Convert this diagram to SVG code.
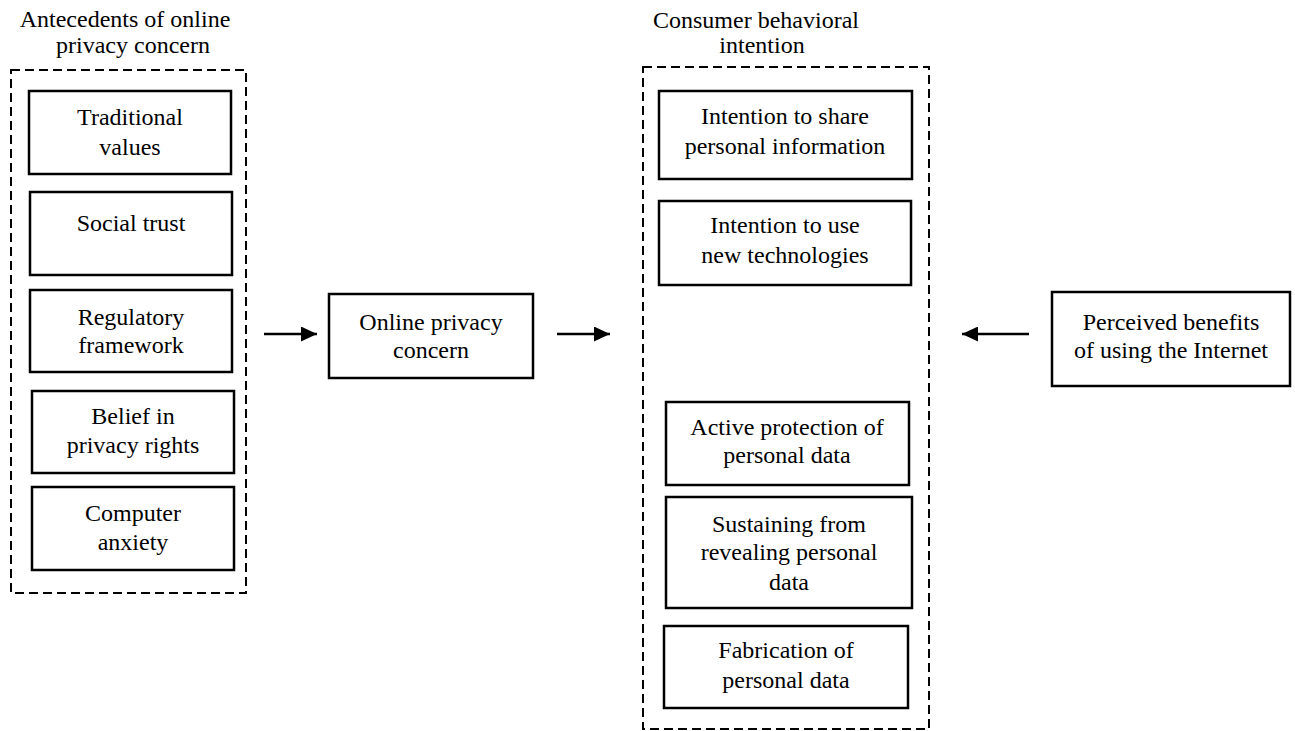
<svg xmlns="http://www.w3.org/2000/svg" width="1295" height="731" viewBox="0 0 1295 731">
<defs>
<style>
text{font-family:"Liberation Serif","Times New Roman",serif;font-size:24px;fill:#000;text-anchor:middle}
.box{fill:#fff;stroke:#000;stroke-width:2.5}
.grp{fill:none;stroke:#000;stroke-width:2;stroke-dasharray:9 5}
.conn{stroke:#000;stroke-width:2.6;fill:none}
</style>
<marker id="ah" viewBox="0 0 16 15" refX="16" refY="7.5" markerWidth="16" markerHeight="15" markerUnits="userSpaceOnUse" orient="auto">
<path d="M0,0 L16,7.5 L0,15 Z" fill="#000"/>
</marker>
</defs>
<rect width="1295" height="731" fill="#fff"/>

<g id="group-antecedents">
<rect class="grp" x="11" y="70" width="235" height="523"/>
<text x="125" y="27">Antecedents of online</text>
<text x="133" y="53">privacy concern</text>
</g>
<g id="group-intention">
<rect class="grp" x="643" y="67" width="286" height="662"/>
<text x="756" y="28">Consumer behavioral</text>
<text x="762" y="53">intention</text>
</g>

<g id="n-traditional"><rect class="box" x="29" y="91" width="202" height="83"/><text x="130" y="125">Traditional</text><text x="130" y="155">values</text></g>
<g id="n-social"><rect class="box" x="30" y="192" width="202" height="83"/><text x="131" y="231">Social trust</text></g>
<g id="n-regulatory"><rect class="box" x="30" y="290" width="202" height="82"/><text x="131" y="325">Regulatory</text><text x="131" y="353">framework</text></g>
<g id="n-belief"><rect class="box" x="32" y="391" width="202" height="82"/><text x="133" y="424">Belief in</text><text x="133" y="453">privacy rights</text></g>
<g id="n-anxiety"><rect class="box" x="32" y="487" width="202" height="83"/><text x="133" y="521">Computer</text><text x="133" y="550">anxiety</text></g>

<g id="n-concern"><rect class="box" x="329" y="294" width="204" height="84"/><text x="431" y="330">Online privacy</text><text x="431" y="358">concern</text></g>

<g id="n-share"><rect class="box" x="659" y="91" width="253" height="88"/><text x="785" y="124">Intention to share</text><text x="785" y="154">personal information</text></g>
<g id="n-newtech"><rect class="box" x="659" y="201" width="252" height="84"/><text x="785" y="233">Intention to use</text><text x="785" y="263">new technologies</text></g>
<g id="n-active"><rect class="box" x="666" y="402" width="243" height="83"/><text x="787" y="435">Active protection of</text><text x="787" y="463">personal data</text></g>
<g id="n-sustain"><rect class="box" x="666" y="497" width="246" height="111"/><text x="789" y="532">Sustaining from</text><text x="789" y="560">revealing personal</text><text x="789" y="590">data</text></g>
<g id="n-fabrication"><rect class="box" x="664" y="626" width="244" height="82"/><text x="786" y="658">Fabrication of</text><text x="786" y="688">personal data</text></g>

<g id="n-benefits"><rect class="box" x="1052" y="292" width="238" height="94"/><text x="1171" y="330">Perceived benefits</text><text x="1171" y="358">of using the Internet</text></g>

<g id="connectors">
<line class="conn" x1="264" y1="334" x2="317" y2="334" marker-end="url(#ah)"/>
<line class="conn" x1="557" y1="334" x2="610" y2="334" marker-end="url(#ah)"/>
<line class="conn" x1="1029" y1="334" x2="962" y2="334" marker-end="url(#ah)"/>
</g>
</svg>
